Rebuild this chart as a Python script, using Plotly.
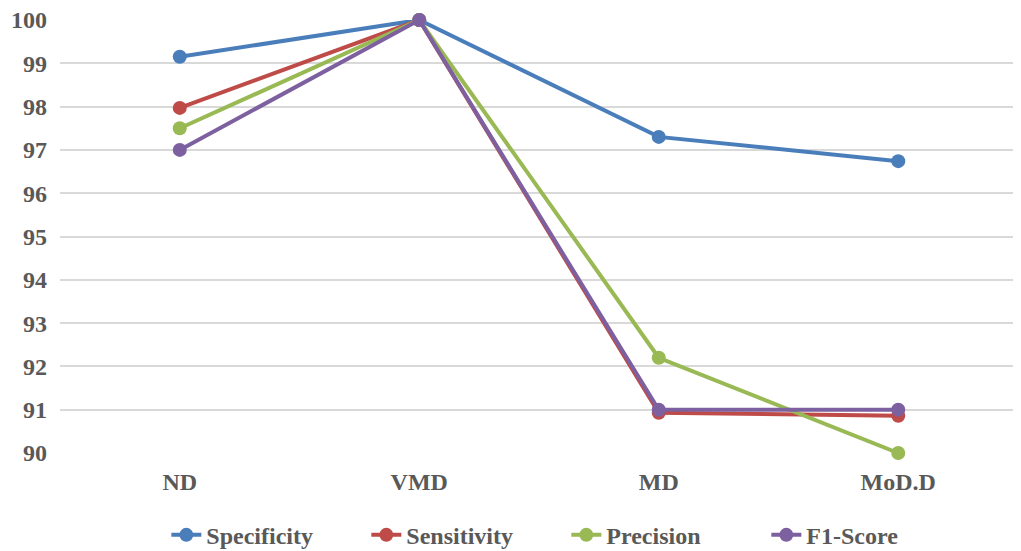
import plotly.graph_objects as go

# categories and series values
categories = ["ND", "VMD", "MD", "MoD.D"]
specificity = [99.15, 100, 97.3, 96.74]
sensitivity = [97.97, 100, 90.93, 90.86]
precision = [97.5, 100, 92.2, 90.0]
f1_score = [97.0, 100, 91.0, 91.0]

series = [
    ("Specificity", specificity, "#4A7EBB"),
    ("Sensitivity", sensitivity, "#BE4B48"),
    ("Precision", precision, "#98B954"),
    ("F1-Score", f1_score, "#7D60A0"),
]

font_family = "Liberation Serif"
text_color = "#595959"
bold_font = dict(family=font_family, size=24, color=text_color, weight="bold")

fig = go.Figure()
for name, vals, color in series:
    fig.add_trace(go.Scatter(
        x=categories, y=vals, name=name, mode="lines+markers",
        line=dict(color=color, width=4),
        marker=dict(color=color, size=14),
        cliponaxis=False,
    ))

# page body adds an 8px offset, so margins are shifted to compensate
fig.update_layout(
    width=1021, height=551,
    margin=dict(l=52, r=11, t=12, b=106, autoexpand=False),
    paper_bgcolor="white", plot_bgcolor="white",
    font=bold_font,
    showlegend=True,
    legend=dict(
        orientation="h", x=0.111, xanchor="left", y=-0.19, yanchor="middle",
        font=bold_font, entrywidth=155, tracegroupgap=0,
    ),
)
fig.update_xaxes(
    showgrid=False, showline=False, zeroline=False, ticks="",
    tickfont=bold_font, ticklabelstandoff=12, automargin=False,
    range=[-0.5, 3.5],
)
fig.update_yaxes(
    range=[90, 100], dtick=1, showgrid=True, gridcolor="#D9D9D9", gridwidth=1.5,
    zeroline=False, showline=False, ticks="", ticklabelstandoff=12,
    tickfont=bold_font, automargin=False, ticklabeloverflow="allow",
)

fig.write_html("out.html")
